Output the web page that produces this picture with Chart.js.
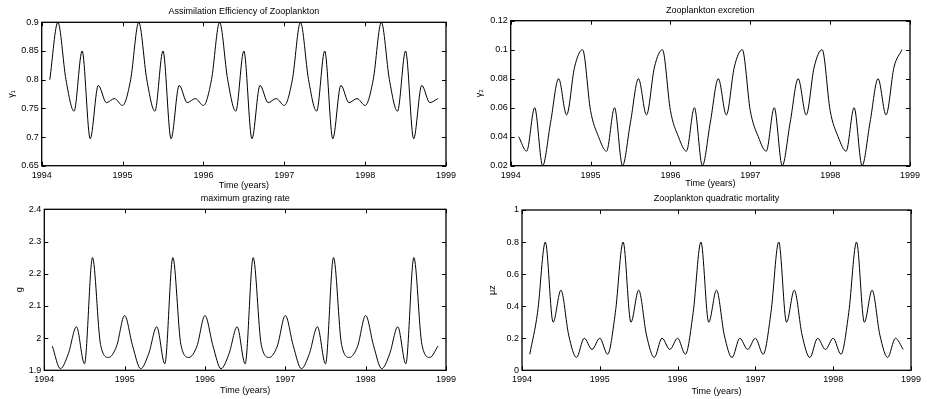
<!DOCTYPE html>
<html>
<head>
<meta charset="utf-8">
<script src="https://cdn.jsdelivr.net/npm/chart.js@4/dist/chart.umd.min.js"></script>
<style>
  body { margin: 0; background: #fff; }
  #wrap { position: relative; width: 927px; height: 399px; }
  #wrap canvas { position: absolute; left: 0; top: 0; }
</style>
</head>
<body>
<div id="wrap">
  <canvas id="c1" width="927" height="399"></canvas>
  <canvas id="c2" width="927" height="399"></canvas>
  <canvas id="c3" width="927" height="399"></canvas>
  <canvas id="c4" width="927" height="399"></canvas>
</div>
<script>
// time axis, 0.1 yr steps
const time = [1994.1,1994.2,1994.3,1994.4,1994.5,1994.6,1994.7,1994.8,1994.9,1995.0,
              1995.1,1995.2,1995.3,1995.4,1995.5,1995.6,1995.7,1995.8,1995.9,1996.0,
              1996.1,1996.2,1996.3,1996.4,1996.5,1996.6,1996.7,1996.8,1996.9,1997.0,
              1997.1,1997.2,1997.3,1997.4,1997.5,1997.6,1997.7,1997.8,1997.9,1998.0,
              1998.1,1998.2,1998.3,1998.4,1998.5,1998.6,1998.7,1998.8,1998.9];

const gamma1 = [0.80,0.90,0.80,0.745,0.85,0.697,0.79,0.76,0.767,0.755,
                0.80,0.90,0.80,0.745,0.85,0.697,0.79,0.76,0.767,0.755,
                0.80,0.90,0.80,0.745,0.85,0.697,0.79,0.76,0.767,0.755,
                0.80,0.90,0.80,0.745,0.85,0.697,0.79,0.76,0.767,0.755,
                0.80,0.90,0.80,0.745,0.85,0.697,0.79,0.76,0.767];

const gamma2 = [0.040,0.030,0.060,0.020,0.050,0.080,0.055,0.088,0.100,0.058,
                0.040,0.030,0.060,0.020,0.050,0.080,0.055,0.088,0.100,0.058,
                0.040,0.030,0.060,0.020,0.050,0.080,0.055,0.088,0.100,0.058,
                0.040,0.030,0.060,0.020,0.050,0.080,0.055,0.088,0.100,0.058,
                0.040,0.030,0.060,0.020,0.050,0.080,0.055,0.088,0.100];

const grazing = [1.975,1.905,1.952,2.035,1.920,2.250,1.980,1.940,1.975,2.070,
                 1.975,1.905,1.952,2.035,1.920,2.250,1.980,1.940,1.975,2.070,
                 1.975,1.905,1.952,2.035,1.920,2.250,1.980,1.940,1.975,2.070,
                 1.975,1.905,1.952,2.035,1.920,2.250,1.980,1.940,1.975,2.070,
                 1.975,1.905,1.952,2.035,1.920,2.250,1.980,1.940,1.975];

const muz = [0.10,0.36,0.80,0.30,0.50,0.22,0.08,0.20,0.13,0.20,
             0.10,0.36,0.80,0.30,0.50,0.22,0.08,0.20,0.13,0.20,
             0.10,0.36,0.80,0.30,0.50,0.22,0.08,0.20,0.13,0.20,
             0.10,0.36,0.80,0.30,0.50,0.22,0.08,0.20,0.13,0.20,
             0.10,0.36,0.80,0.30,0.50,0.22,0.08,0.20,0.13];

const FONT = 'Liberation Sans, Arial, Helvetica, sans-serif';
const LH = 10.8; // 9px * 1.2

// inward tick marks + box, matlab style
const framePlugin = {
    id: 'frame',
    afterDatasetsDraw(chart) {
        const ctx = chart.ctx;
        const a = chart.chartArea;
        const xs = chart.scales.x, ys = chart.scales.y;
        ctx.save();
        ctx.strokeStyle = '#000';
        ctx.lineWidth = 1;
        ctx.beginPath();
        xs.ticks.forEach(t => {
            const px = Math.round(xs.getPixelForValue(t.value)) + 0.5;
            ctx.moveTo(px, a.bottom); ctx.lineTo(px, a.bottom - 4);
            ctx.moveTo(px, a.top); ctx.lineTo(px, a.top + 4);
        });
        ys.ticks.forEach(t => {
            const py = Math.round(ys.getPixelForValue(t.value)) + 0.5;
            ctx.moveTo(a.left, py); ctx.lineTo(a.left + 4, py);
            ctx.moveTo(a.right, py); ctx.lineTo(a.right - 4, py);
        });
        ctx.stroke();
        ctx.lineWidth = 1.3;
        ctx.strokeRect(a.left, a.top, a.right - a.left, a.bottom - a.top);
        ctx.restore();
    }
};

function makePanel(id, g, title, ylab, values, ymin, ymax, ystep) {
    const yW = g.L - (g.ylabX - LH / 2);
    const xH = g.xlabY + LH / 2 - g.B;
    return new Chart(document.getElementById(id), {
        type: 'line',
        data: {
            labels: time,
            datasets: [{
                data: time.map((t, i) => ({x: t, y: values[i]})),
                borderColor: '#000',
                borderWidth: 1,
                pointRadius: 0,
                fill: false,
                cubicInterpolationMode: 'monotone'
            }]
        },
        options: {
            responsive: false,
            animation: false,
            layout: {
                padding: {
                    left: g.ylabX - LH / 2,
                    right: 927 - g.R,
                    top: g.titleY - LH / 2,
                    bottom: 399 - g.B - xH
                }
            },
            scales: {
                x: {
                    type: 'linear',
                    min: 1994, max: 1999,
                    grid: { display: false, drawTicks: false },
                    border: { display: false },
                    ticks: {
                        stepSize: 1,
                        padding: 4,
                        maxRotation: 0,
                        color: '#000',
                        font: { family: FONT, size: 9 },
                        callback: v => String(v)
                    },
                    title: {
                        display: true,
                        text: 'Time (years)',
                        color: '#000',
                        padding: 0,
                        font: { family: FONT, size: 9 }
                    },
                    afterFit: s => { s.height = xH; }
                },
                y: {
                    min: ymin, max: ymax,
                    grid: { display: false, drawTicks: false },
                    border: { display: false },
                    ticks: {
                        stepSize: ystep,
                        padding: 3,
                        color: '#000',
                        font: { family: FONT, size: 9 },
                        callback: v => String(+v.toFixed(4))
                    },
                    title: {
                        display: true,
                        text: ylab,
                        color: '#000',
                        padding: 0,
                        font: { family: FONT, size: 9 }
                    },
                    afterFit: s => { s.width = yW; }
                }
            },
            plugins: {
                legend: { display: false },
                tooltip: { enabled: false },
                title: {
                    display: true,
                    text: title,
                    fullSize: false,
                    color: '#000',
                    font: { family: FONT, size: 9, weight: 'normal' },
                    padding: { top: 0, bottom: g.T - g.titleY - LH / 2 }
                }
            }
        },
        plugins: [framePlugin]
    });
}

makePanel('c1', {L: 41.7, R: 446, T: 22.3, B: 165.7, titleY: 11.5, xlabY: 186, ylabX: 12},
    'Assimilation Efficiency of Zooplankton', 'γ₁', gamma1, 0.65, 0.9, 0.05);
makePanel('c2', {L: 510.7, R: 910, T: 20.7, B: 165.7, titleY: 11, xlabY: 183.5, ylabX: 480},
    'Zooplankton excretion', 'γ₂', gamma2, 0.02, 0.12, 0.02);
makePanel('c3', {L: 44.3, R: 446, T: 209.3, B: 370.3, titleY: 199, xlabY: 390.5, ylabX: 20},
    'maximum grazing rate', 'g', grazing, 1.9, 2.4, 0.1);
makePanel('c4', {L: 522, R: 911, T: 210, B: 370.3, titleY: 199, xlabY: 391.5, ylabX: 493},
    'Zooplankton quadratic mortality', 'μz', muz, 0, 1, 0.2);
</script>
</body>
</html>
